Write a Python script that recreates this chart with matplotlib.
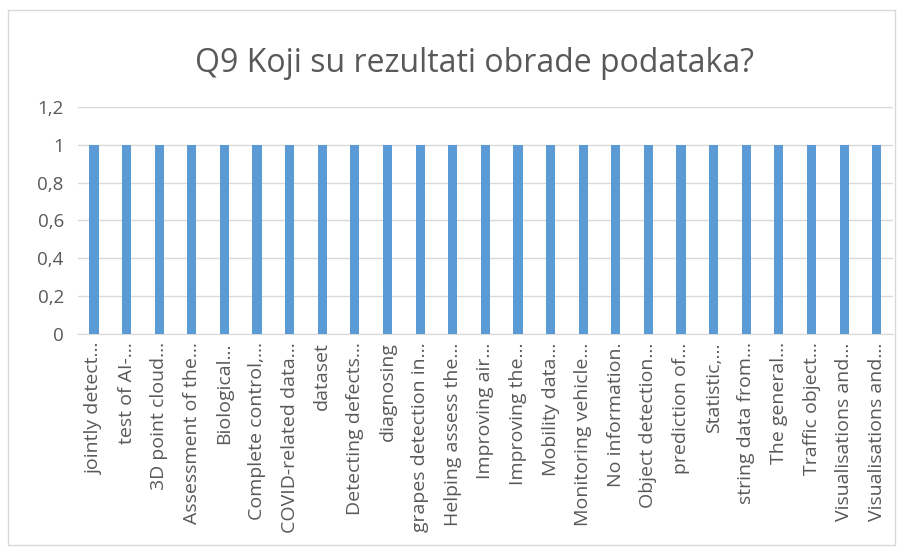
import matplotlib.pyplot as plt
from matplotlib.patches import Rectangle
from matplotlib.ticker import FuncFormatter

plt.rcParams['font.family'] = ['Open Sans', 'DejaVu Sans']

# Data
categories = [
    'jointly detect…', 'test of AI-…', '3D point cloud…', 'Assessment of the…',
    'Biological…', 'Complete control,…', 'COVID-related data…', 'dataset',
    'Detecting defects…', 'diagnosing', 'grapes detection in…', 'Helping assess the…',
    'Improving air…', 'Improving the…', 'Mobility data…', 'Monitoring vehicle…',
    'No information.', 'Object detection…', 'prediction of…', 'Statistic,…',
    'string data from…', 'The general…', 'Traffic object…', 'Visualisations and…',
    'Visualisations and…',
]
values = [1] * len(categories)
y_ticks = [0, 0.2, 0.4, 0.6, 0.8, 1, 1.2]

text_color = '#595959'
bar_color = '#5B9BD5'
grid_color = '#D9D9D9'

fig = plt.figure(figsize=(9.03, 5.49), dpi=100)
ax = fig.add_axes([0.086, 0.392, 0.903, 0.413])

# Chart border
fig.patches.append(Rectangle((0.009, 0.007), 0.982, 0.975, transform=fig.transFigure,
                             fill=False, edgecolor='#D9D9D9', linewidth=1))

x = range(len(categories))
ax.bar(x, values, width=0.28, color=bar_color, zorder=3)

ax.set_xlim(-0.5, len(categories) - 0.5)
ax.set_ylim(0, 1.2)
ax.set_yticks(y_ticks)
ax.yaxis.set_major_formatter(FuncFormatter(lambda v, p: ('%g' % round(v, 1)).replace('.', ',')))
ax.grid(axis='y', color=grid_color, linewidth=1, zorder=0)

ax.set_xticks(list(x))
ax.set_xticklabels(categories, rotation=90, fontsize=14, color=text_color)
ax.tick_params(axis='y', labelsize=13.5, labelcolor=text_color, length=0, pad=10)
ax.tick_params(axis='x', length=0, pad=6)

for s in ['top', 'right', 'left']:
    ax.spines[s].set_visible(False)
ax.spines['bottom'].set_color(grid_color)

fig.text(0.525, 0.885, 'Q9 Koji su rezultati obrade podataka?', ha='center', va='center',
         fontsize=23, color=text_color)

fig.savefig('out.png', dpi=100)
